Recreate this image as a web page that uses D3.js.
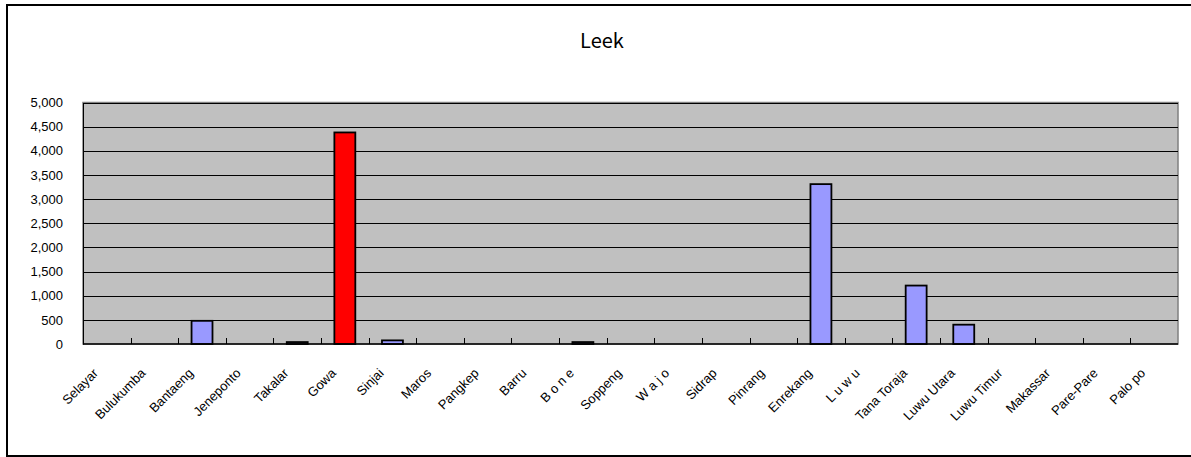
<!DOCTYPE html>
<html>
<head>
<meta charset="utf-8">
<script src="https://cdn.jsdelivr.net/npm/d3@7"></script>
<style>
  html, body { margin: 0; padding: 0; background: #fff; }
  svg { display: block; }
</style>
</head>
<body>
<svg id="chart" width="1191" height="457"></svg>
<script>
// Leek production by regency / city
const regions = ["Selayar", "Bulukumba", "Bantaeng", "Jeneponto", "Takalar", "Gowa", "Sinjai", "Maros",
  "Pangkep", "Barru", "B o n e", "Soppeng", "W a j o", "Sidrap", "Pinrang", "Enrekang", "L u w u",
  "Tana Toraja", "Luwu Utara", "Luwu Timur", "Makassar", "Pare-Pare", "Palo po"];
const production = [0, 0, 480, 0, 40, 4380, 75, 0, 0, 0, 40, 0, 0, 0, 0, 3310, 0, 1210, 400, 0, 0, 0, 0];
const highlighted = ["Gowa"];
const yTicks = [0, 500, 1000, 1500, 2000, 2500, 3000, 3500, 4000, 4500, 5000];
const title = "Leek";

const svg = d3.select("#chart");
const plot = { left: 83, right: 1178, top: 102.5, bottom: 344 };
const labelFont = "'Liberation Sans', Arial, sans-serif";

// outer chart frame (right side runs off the page)
svg.append("rect").attr("x", 7).attr("y", 5).attr("width", 1200).attr("height", 451)
  .attr("fill", "#fff").attr("stroke", "#000").attr("stroke-width", 2);

svg.append("text").attr("x", 602).attr("y", 48).attr("text-anchor", "middle")
  .attr("font-family", "'Noto Sans CJK JP', 'DejaVu Sans', sans-serif").attr("font-size", 20)
  .attr("fill", "#000").text(title);

const x = d3.scaleBand().domain(regions).range([plot.left, plot.right]).paddingInner(0.56).paddingOuter(0.28);
const y = d3.scaleLinear().domain([0, 5000]).range([plot.bottom, plot.top]);

// plot area
svg.append("rect").attr("x", plot.left).attr("y", plot.top)
  .attr("width", plot.right - plot.left).attr("height", plot.bottom - plot.top)
  .attr("fill", "#C0C0C0").attr("stroke", "#808080").attr("stroke-width", 1.5);

// gridlines
svg.append("g").selectAll("line").data(yTicks.filter(d => d > 0)).join("line")
  .attr("x1", plot.left).attr("x2", plot.right)
  .attr("y1", d => Math.round(y(d)) + 0.5).attr("y2", d => Math.round(y(d)) + 0.5)
  .attr("stroke", "#000").attr("stroke-width", 1);

// y axis
const yAxis = d3.axisLeft(y).tickValues(yTicks).tickFormat(d3.format(",")).tickSize(0).tickPadding(20);
const gy = svg.append("g").attr("transform", `translate(${plot.left},0)`).call(yAxis);
gy.select(".domain").attr("stroke", "#000");
gy.selectAll("text").attr("font-family", labelFont).attr("font-size", 13).attr("fill", "#000");

// bars
svg.append("g").selectAll("rect").data(regions.map((r, i) => ({ r, v: production[i] }))).join("rect")
  .filter(d => d.v > 0)
  .attr("x", d => x(d.r)).attr("width", x.bandwidth())
  .attr("y", d => y(d.v)).attr("height", d => y(0) - y(d.v))
  .attr("fill", d => highlighted.includes(d.r) ? "#FF0000" : "#9999FF")
  .attr("stroke", "#000").attr("stroke-width", 1.8);

// x axis with inside ticks at category boundaries
const bounds = d3.range(1, regions.length).map(i => plot.left + i * (plot.right - plot.left) / regions.length);
svg.append("g").selectAll("line").data(bounds).join("line")
  .attr("x1", d => Math.round(d) + 0.5).attr("x2", d => Math.round(d) + 0.5)
  .attr("y1", plot.bottom).attr("y2", plot.bottom - 6)
  .attr("stroke", "#000").attr("stroke-width", 1);
svg.append("line").attr("x1", plot.left).attr("x2", plot.right)
  .attr("y1", plot.bottom).attr("y2", plot.bottom).attr("stroke", "#000").attr("stroke-width", 1.5);

// category labels slanted at 45 degrees
svg.append("g").selectAll("text").data(regions).join("text")
  .attr("transform", d => `translate(${x(d) + x.bandwidth() / 2 - 8},${plot.bottom + 30}) rotate(-45)`)
  .attr("text-anchor", "end")
  .attr("font-family", labelFont).attr("font-size", 13).attr("fill", "#000")
  .text(d => d);
</script>
</body>
</html>
